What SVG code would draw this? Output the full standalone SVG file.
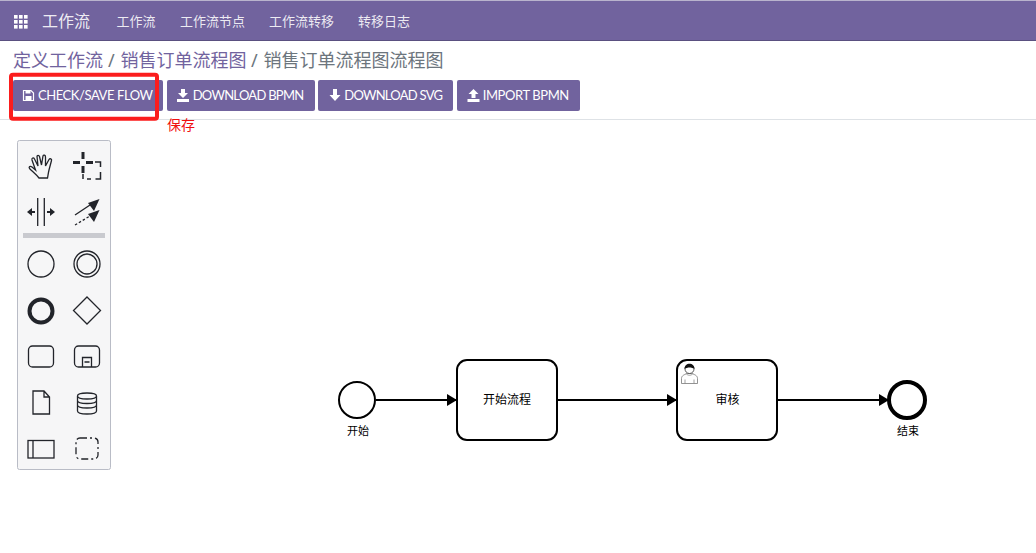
<svg xmlns="http://www.w3.org/2000/svg" width="1036" height="553" viewBox="0 0 1036 553">
<style>
text{font-family:"Noto Sans","Noto Sans CJK SC",sans-serif}
.nav{fill:#fff;font-size:13px;fill-opacity:.88}
.b{fill:#71639e}
.bt{fill:#fff;font-size:13px;font-family:Lato,"Noto Sans",sans-serif}
.tool{fill:none;stroke:#22242a;stroke-width:1.3}
.flow{fill:none;stroke:#000;stroke-width:2}
.shape{fill:#fff;stroke:#000;stroke-width:2}
.lbl{font-size:11px;fill:#000;text-anchor:middle}
.tl{font-size:12px;fill:#000;text-anchor:middle}
.ic{fill:#fff}
</style>
<defs>
<marker id="arr" markerUnits="userSpaceOnUse" markerWidth="11" markerHeight="12" refX="10" refY="6" orient="auto"><path d="M0 0L10 6L0 12Z" fill="#000"/></marker>
</defs>
<rect width="1036" height="553" fill="#fff"/>
<g id="navbar">
<rect width="1036" height="41" fill="#71639e"/>
<rect width="1036" height="1" fill="#b9b4cd"/>
<rect y="40" width="1036" height="1" fill="#5a5080"/>
<g class="ic"><rect x="14" y="15" width="3.600" height="3.600"/><rect x="19" y="15" width="3.600" height="3.600"/><rect x="24" y="15" width="3.600" height="3.600"/><rect x="14" y="20" width="3.600" height="3.600"/><rect x="19" y="20" width="3.600" height="3.600"/><rect x="24" y="20" width="3.600" height="3.600"/><rect x="14" y="25" width="3.600" height="3.600"/><rect x="19" y="25" width="3.600" height="3.600"/><rect x="24" y="25" width="3.600" height="3.600"/></g>
<text x="42" y="27" fill="#fff" fill-opacity=".9" font-size="16">工作流</text>
<text class="nav" x="116.500" y="26">工作流</text>
<text class="nav" x="180" y="26">工作流节点</text>
<text class="nav" x="269" y="26">工作流转移</text>
<text class="nav" x="358" y="26">转移日志</text>
</g>
<g id="breadcrumb" font-size="18">
<text x="13" y="67" fill="#71639e">定义工作流</text>
<text x="108" y="67" fill="#6c757d">/</text>
<text x="120.500" y="67" fill="#71639e">销售订单流程图</text>
<text x="251" y="67" fill="#6c757d">/</text>
<text x="263.500" y="67" fill="#6c757d">销售订单流程图流程图</text>
</g>
<g id="btn-save">
<rect class="b" x="13" y="80" width="150" height="31" rx="2"/>
<path d="M23.500 90.500h7.500l2.500 2.500v7.500h-10z" fill="none" stroke="#fff" stroke-width="1.200"/>
<path class="ic" d="M25.500 90.500h5v3h-5zM25.500 96h6v4.500h-6z"/>
<text class="bt" x="38" y="100" textLength="115">CHECK/SAVE FLOW</text>
</g>
<g id="btn-bpmn">
<rect class="b" x="167" y="80" width="148" height="31" rx="2"/>
<path class="ic" d="M181 89h4v4h3l-5 5-5-5h3zM177 99h12v3h-12z"/>
<text class="bt" x="192.700" y="100" textLength="111.500">DOWNLOAD BPMN</text>
</g>
<g id="btn-svg">
<rect class="b" x="318" y="80" width="135" height="31" rx="2"/>
<path class="ic" d="M333 89h4v6h3.500l-5.500 6-5.500-6h3.500z"/>
<text class="bt" x="344.300" y="100" textLength="98.700">DOWNLOAD SVG</text>
</g>
<g id="btn-import">
<rect class="b" x="457" y="80" width="123" height="31" rx="2"/>
<path class="ic" d="M473.500 89l5 5h-3v4h-4v-4h-3zM467.500 99h12v3h-12z"/>
<text class="bt" x="482.700" y="100" textLength="86.600">IMPORT BPMN</text>
</g>
<rect x="0" y="119" width="1036" height="1" fill="#dee2e6"/>
<g id="annotation">
<rect x="11" y="74.700" width="146" height="44" rx="2" fill="none" stroke="#fb1d1d" stroke-width="4"/>
<text x="167" y="130" font-size="14" fill="#f01010">保存</text>
</g>
<g id="palette">
<rect x="17.500" y="140.500" width="93" height="329" rx="2" fill="#f6f6f7" stroke="#b9bcc6"/>
<rect x="23" y="233" width="82" height="5" fill="#c9cacf"/>
<path class="tool" d="M39 178C36 174 33 172 29.500 168.500C28.500 167 30 165.500 32 167L35.500 170L32 160C31.500 158 33.500 157 34.500 159L38 166L37 156.500C37 155 39 155 39.500 156.500L41.500 165L43 156C43.500 154.500 45.500 155 45.500 157L45.500 166L49 159.500C50 158 52 159 51.500 160.500L49 170C48 174 48 176 47.500 178Z"/>
<path d="M81.500 152h3v7h-3zM81.500 166h3v7h-3zM73 161h7v3h-7zM86 161h7v3h-7z" fill="#22242a"/>
<path d="M95 162h5.500v5M100.500 172v7h-5M91 179h-4M83 179v-5" fill="none" stroke="#22242a" stroke-width="1.500"/>
<path class="tool" d="M37.700 198v28M44.300 198v28"/>
<path d="M27 212l5-4v8zM55 212l-5-4v8z" fill="#22242a"/><path d="M32 211h3v2h-3zM47 211h3v2h-3z" fill="#22242a"/>
<path class="tool" d="M75 215l15-10"/><path d="M99.500 199l-5.500 12-6-8z" fill="#22242a"/>
<path class="tool" d="M75 225l15-9" stroke-dasharray="2.500 2"/><path d="M99.500 210l-5.500 12-6-8z" fill="#22242a"/>
<circle class="tool" cx="41" cy="264" r="13"/>
<circle class="tool" cx="87" cy="264" r="13"/><circle class="tool" cx="87" cy="264" r="10"/>
<circle cx="41" cy="311" r="11.500" fill="none" stroke="#22242a" stroke-width="4"/>
<path class="tool" d="M87 297l13.500 13.500-13.500 13.500-13.500-13.500z"/>
<rect class="tool" x="28.500" y="346" width="25" height="21" rx="4"/>
<rect class="tool" x="74.500" y="346" width="25" height="21" rx="4"/>
<path class="tool" d="M82.500 367v-9.500h9v9.500M84.500 362h5"/>
<path class="tool" d="M33 391h11l5.500 6v17h-16.500zM44 391v6h5.500"/>
<path class="tool" d="M77.500 396c0-4 19-4 19 0v15c0 4-19 4-19 0zM77.500 396c0 4 19 4 19 0M77.500 400.500c0 4 19 4 19 0M77.500 405c0 4 19 4 19 0"/>
<rect class="tool" x="28" y="440.500" width="26" height="17.500"/><path class="tool" d="M33 440.500v17.500"/>
<rect class="tool" x="76" y="438" width="22" height="21" rx="4" stroke-dasharray="7 3 2 3"/>
</g>
<g id="connectors">
<path class="flow" marker-end="url(#arr)" d="M376 400H457"/>
<path class="flow" marker-end="url(#arr)" d="M558 400H677"/>
<path class="flow" marker-end="url(#arr)" d="M778 400H889"/>
</g>
<g id="start">
<circle class="shape" cx="357" cy="400" r="18"/>
<text class="lbl" x="358" y="435">开始</text>
</g>
<g id="task1">
<rect class="shape" x="457" y="360" width="100" height="80" rx="10"/>
<text class="tl" x="507" y="403.500">开始流程</text>
</g>
<g id="task2">
<rect class="shape" x="677" y="360" width="100" height="80" rx="10"/>
<path d="M681.500 383.500v-5c0-3 3-4 6-5h4c3 1 6 2 6 5v5z" fill="#fff" stroke="#777" stroke-width=".8"/>
<path d="M685 383.500v-4M694 383.500v-4M686 373c1 3 6 3 7 0" fill="none" stroke="#888" stroke-width=".8"/>
<circle cx="689.500" cy="369" r="4.500" fill="#fff" stroke="#333" stroke-width=".8"/>
<path d="M684.500 369c0-7 10-7 10 0-3-2-7-2-10 0z" fill="#111"/>
<text class="tl" x="727.500" y="403.500">审核</text>
</g>
<g id="end">
<circle cx="907" cy="400" r="18" fill="#fff" stroke="#000" stroke-width="4"/>
<text class="lbl" x="908" y="435">结束</text>
</g>
</svg>
